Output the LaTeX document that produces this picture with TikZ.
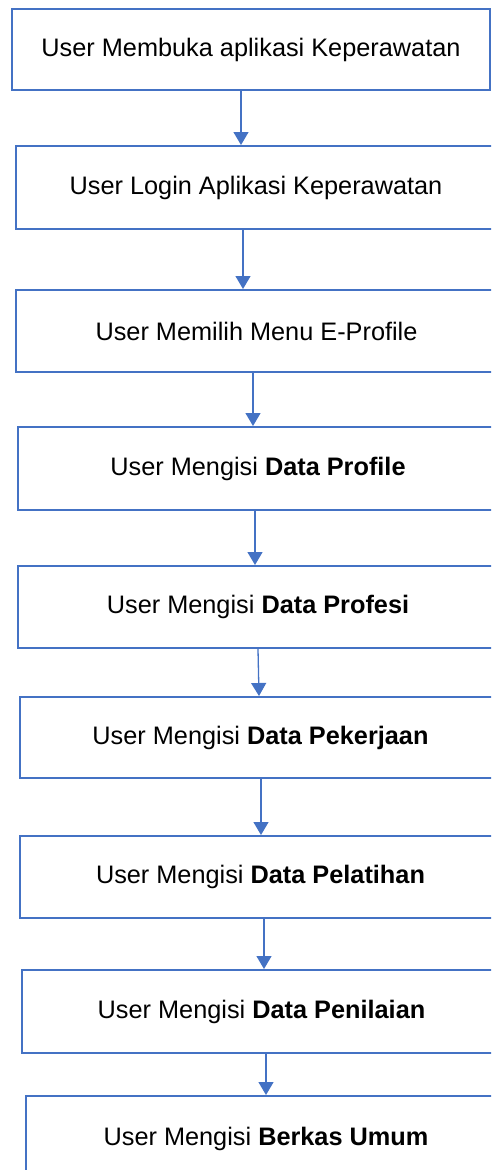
\documentclass[tikz,border=0pt]{standalone}
\usepackage{fontspec}
\setmainfont{Liberation Sans}
\usetikzlibrary{arrows.meta}
\definecolor{boxblue}{HTML}{4472C4}
\tikzset{
  stepbox/.style={draw=boxblue, line width=2pt, fill=white, rectangle, inner sep=0pt, anchor=north west,
    font=\fontsize{25.3}{30}\selectfont, text=black},
  arr/.style={draw=boxblue, line width=1.3pt, -{Triangle[length=13pt,width=15pt]}}
}
\begin{document}
\begin{tikzpicture}[x=1pt,y=-1pt]
\useasboundingbox (0,0) rectangle (491,1170);
\clip (0,0) rectangle (491,1170);
\node[stepbox, minimum width=478pt, minimum height=81pt] (b1) at (11,8) {User Membuka aplikasi Keperawatan};
\node[stepbox, minimum width=480pt, minimum height=83pt] (b2) at (15,145) {User Login Aplikasi Keperawatan};
\node[stepbox, minimum width=481pt, minimum height=82pt] (b3) at (15,289) {User Memilih Menu E-Profile};
\node[stepbox, minimum width=480pt, minimum height=83pt] (b4) at (17,426) {User Mengisi \textbf{Data Profile}};
\node[stepbox, minimum width=480pt, minimum height=82pt] (b5) at (17,565) {User Mengisi \textbf{Data Profesi}};
\node[stepbox, minimum width=481pt, minimum height=81pt] (b6) at (19,696) {User Mengisi \textbf{Data Pekerjaan}};
\node[stepbox, minimum width=481pt, minimum height=82pt] (b7) at (19,835) {User Mengisi \textbf{Data Pelatihan}};
\node[stepbox, minimum width=479pt, minimum height=83pt] (b8) at (21,969) {User Mengisi \textbf{Data Penilaian}};
\node[stepbox, minimum width=480pt, minimum height=86pt] (b9) at (25,1095) {User Mengisi \textbf{Berkas Umum}};
\draw[arr] ([xshift=-10pt]b1.south) -- ([xshift=-10pt]b1.south |- b2.north);
\draw[arr] ([xshift=-13pt]b2.south) -- ([xshift=-13pt]b2.south |- b3.north);
\draw[arr] ([xshift=-3.5pt]b3.south) -- ([xshift=-3.5pt]b3.south |- b4.north);
\draw[arr] ([xshift=-3pt]b4.south) -- ([xshift=-3pt]b4.south |- b5.north);
\draw[arr] (b5.south) -- ([xshift=-1.5pt]b6.north);
\draw[arr] ([xshift=0.5pt]b6.south) -- ([xshift=0.5pt]b6.south |- b7.north);
\draw[arr] ([xshift=3.5pt]b7.south) -- ([xshift=3.5pt]b7.south |- b8.north);
\draw[arr] ([xshift=4.5pt]b8.south) -- ([xshift=4.5pt]b8.south |- b9.north);
\end{tikzpicture}
\end{document}
